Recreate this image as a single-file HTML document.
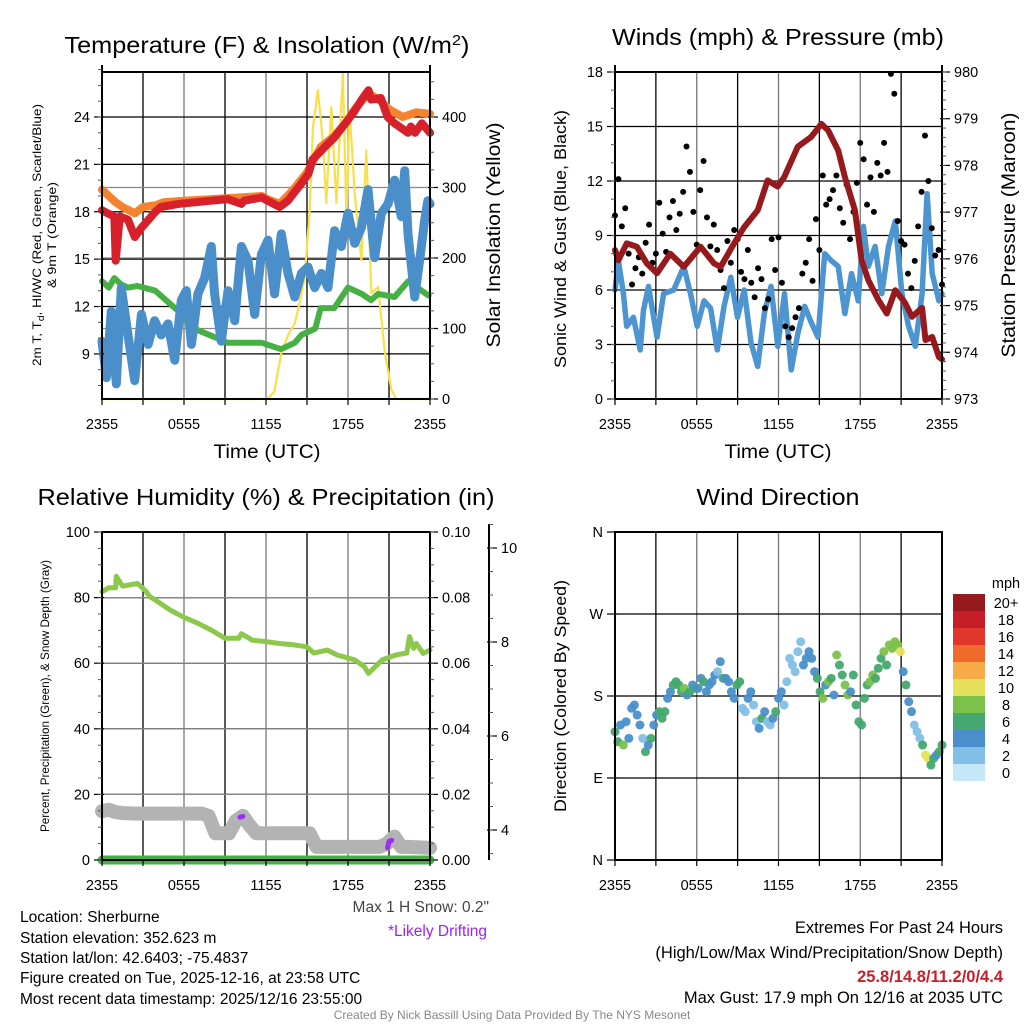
<!DOCTYPE html>
<html><head><meta charset="utf-8"><style>
html,body{margin:0;padding:0;background:#fff;}
svg{display:block;font-family:"Liberation Sans",sans-serif;}
</style></head><body>
<svg id="fig" width="1024" height="1024" viewBox="0 0 1024 1024" xmlns="http://www.w3.org/2000/svg">
<rect width="1024" height="1024" fill="#fff"/>
<g id="grids"></g>
<g id="series"></g>
<g id="axes"></g>
<g font-size="23" fill="#000">
<text x="267" y="53" text-anchor="middle" textLength="405" lengthAdjust="spacingAndGlyphs">Temperature (F) &amp; Insolation (W/m<tspan dy="-8" font-size="15">2</tspan><tspan dy="8">)</tspan></text>
<text x="778" y="45" text-anchor="middle" textLength="332" lengthAdjust="spacingAndGlyphs">Winds (mph) &amp; Pressure (mb)</text>
<text x="266" y="505" text-anchor="middle" textLength="457" lengthAdjust="spacingAndGlyphs">Relative Humidity (%) &amp; Precipitation (in)</text>
<text x="778" y="505" text-anchor="middle" textLength="163" lengthAdjust="spacingAndGlyphs">Wind Direction</text>
</g>
<g font-size="19">
<text x="267" y="458" text-anchor="middle" textLength="107" lengthAdjust="spacingAndGlyphs">Time (UTC)</text>
<text x="778" y="458" text-anchor="middle" textLength="107" lengthAdjust="spacingAndGlyphs">Time (UTC)</text>
<text transform="translate(500,235) rotate(-90)" text-anchor="middle" font-size="19" textLength="225" lengthAdjust="spacingAndGlyphs">Solar Insolation (Yellow)</text>
<text transform="translate(566,239) rotate(-90)" text-anchor="middle" font-size="17" textLength="258" lengthAdjust="spacingAndGlyphs">Sonic Wind &amp; Gust (Blue, Black)</text>
<text transform="translate(1015,235) rotate(-90)" text-anchor="middle" font-size="19" textLength="245" lengthAdjust="spacingAndGlyphs">Station Pressure (Maroon)</text>
<text transform="translate(566,696) rotate(-90)" text-anchor="middle" font-size="17" textLength="232" lengthAdjust="spacingAndGlyphs">Direction (Colored By Speed)</text>
</g>
<g font-size="12">
<text transform="translate(41,235) rotate(-90)" text-anchor="middle" textLength="262" lengthAdjust="spacingAndGlyphs">2m T, T<tspan dy="3" font-size="9">d</tspan><tspan dy="-3">, HI/WC (Red, Green, Scarlet/Blue)</tspan></text>
<text transform="translate(56,235) rotate(-90)" text-anchor="middle" textLength="106" lengthAdjust="spacingAndGlyphs">&amp; 9m T (Orange)</text>
<text transform="translate(49,696) rotate(-90)" text-anchor="middle" textLength="272" lengthAdjust="spacingAndGlyphs">Percent, Precipitation (Green), &amp; Snow Depth (Gray)</text>
</g>
<g font-size="15.5" fill="#000">
<text x="20" y="922">Location: Sherburne</text>
<text x="20" y="943">Station elevation: 352.623 m</text>
<text x="20" y="963">Station lat/lon: 42.6403; -75.4837</text>
<text x="20" y="983">Figure created on Tue, 2025-12-16, at 23:58 UTC</text>
<text x="20" y="1004">Most recent data timestamp: 2025/12/16 23:55:00</text>
<text x="489" y="912" text-anchor="end" fill="#444">Max 1 H Snow: 0.2"</text>
<text x="487" y="936" text-anchor="end" fill="#a020f0">*Likely Drifting</text>
</g>
<g font-size="16.5" fill="#000" text-anchor="end">
<text x="1003" y="933">Extremes For Past 24 Hours</text>
<text x="1003" y="958">(High/Low/Max Wind/Precipitation/Snow Depth)</text>
<text x="1003" y="982" fill="#c8202a" font-weight="bold">25.8/14.8/11.2/0/4.4</text>
<text x="1003" y="1003">Max Gust: 17.9 mph On 12/16 at 2035 UTC</text>
</g>
<text x="512" y="1019" text-anchor="middle" font-size="12" fill="#888">Created By Nick Bassill Using Data Provided By The NYS Mesonet</text>
<g id="cbar"></g>
</svg>
<script>
// ---------- data ----------
const timeTickLabels = ["2355","0555","1155","1755","2355"];
const tempTicks = [9,12,15,18,21,24];
const solarTicks = [0,100,200,300,400];
const windTicks = [0,3,6,9,12,15,18];
const pressTicks = [973,974,975,976,977,978,979,980];
const rhTicks = [0,20,40,60,80,100];
const precipTicks = [0,0.02,0.04,0.06,0.08,0.10];
const precipTickLabels = ["0.00","0.02","0.04","0.06","0.08","0.10"];
const snowTicks = [4,6,8,10];
const dirTicks = [0,90,180,270,360];
const dirTickLabels = ["N","E","S","W","N"];
const speedBinLabels = ["0","2","4","6","8","10","12","14","16","18","20+"];

const redT = [0,0.4,0.9,1.0,1.3,1.9,2.4,2.9,3.4,3.9,4.3,5.6,6.8,8.0,9.2,10.2,10.4,11.7,12.1,13.0,13.6,14.6,15.1,15.4,16.3,17.0,17.8,18.5,19.0,19.5,19.7,20.4,20.9,21.4,22.4,22.6,22.9,23.4,24];
const redV = [18.1,17.9,17.7,14.9,17.7,17.5,16.4,17.0,17.5,18.0,18.3,18.5,18.6,18.7,18.8,18.5,18.7,18.9,18.7,18.3,18.7,19.8,20.4,21.3,22.1,22.7,23.6,24.4,25.1,25.7,25.1,25.2,24.0,23.6,23.0,23.4,23.0,23.6,23.0];
const orangeT = [0,0.5,1.0,1.5,2.4,3.0,3.9,4.5,6,8,10,11.7,12.1,13,14,15,16,17,18,18.5,19.5,20.4,21,22,23,24];
const orangeV = [19.4,19.0,18.6,18.3,17.9,18.3,18.4,18.6,18.7,18.8,18.9,19.0,18.8,18.5,19.4,20.5,22.1,22.8,23.8,24.5,25.5,25.0,24.5,24.0,24.3,24.2];
const greenT = [0,0.5,0.9,1.4,1.9,2.6,3.9,5.6,7.0,8.7,9.2,11.7,13.1,14.1,14.6,15.6,16.0,17.0,18.0,19.0,19.7,20.2,21.4,22.4,23.9];
const greenV = [13.6,13.2,13.8,13.4,13.2,13.3,13.0,11.7,10.5,9.9,9.7,9.7,9.3,9.7,10.2,10.6,11.9,11.9,13.2,12.8,12.4,12.8,12.6,13.6,12.7];
const blueT = [0,0.32,0.68,1.05,1.41,1.9,2.39,2.88,3.37,3.85,4.34,4.83,5.32,5.8,6.17,6.54,7.02,7.51,8.0,8.24,8.73,9.22,9.71,10.2,10.68,11.17,11.66,12.15,12.63,13.12,13.61,14.1,14.59,15.07,15.56,16.05,16.54,17.02,17.51,18.0,18.49,18.98,19.46,19.95,20.44,20.93,21.41,21.9,22.15,22.39,22.88,23.24,23.61,23.85,24];
const blueV = [9.8,7.5,11.7,7.1,13.2,10.2,7.3,11.5,9.6,11.1,10.2,10.9,8.6,12.4,13.0,9.6,12.8,13.8,15.8,12.8,9.8,13.0,11.1,15.8,14.9,11.5,15.3,16.2,12.8,16.6,14.1,12.6,14.1,14.5,13.2,14.1,13.2,16.8,15.8,17.9,16.0,17.0,19.4,15.1,17.9,18.5,20.0,17.7,20.6,16.6,12.6,14.9,17.5,18.7,18.5];
const solarT = [0,12.1,12.6,13.12,13.6,14.1,14.5,14.83,15.2,15.44,15.8,16.17,16.41,16.78,17.15,17.63,17.88,18.12,18.49,18.98,19.34,19.71,20.2,20.68,21.17,21.54,24];
const solarV = [0,0,10,65,90,107,140,173,268,386,438,363,278,414,278,462,258,410,292,197,353,150,159,69,13,0,0];

const pressT = [0,0.25,0.86,1.6,2.34,3.08,4.06,5.05,6.28,7.27,7.76,8.74,9.48,10.47,11.2,11.94,12.42,13.42,14.4,15.15,15.64,16.38,16.87,17.61,18.1,18.6,19.33,19.95,20.57,21.3,21.8,22.54,22.79,23.28,23.77,24];
const pressV = [976.19,975.97,976.33,976.26,975.9,975.69,976.11,975.83,976.26,975.9,975.83,976.33,976.68,977.04,977.68,977.55,977.75,978.4,978.61,978.89,978.75,978.32,977.75,977.04,975.97,975.54,975.12,974.83,975.33,975.05,974.76,974.95,974.26,974.33,973.9,973.85];
const windT = [0,0.25,0.62,0.86,1.35,1.85,2.09,2.46,3.08,3.57,4.31,5.05,5.54,6.03,6.53,7.02,7.51,8.0,8.5,8.99,9.48,9.98,10.47,10.96,11.45,11.95,12.44,12.93,13.42,13.92,14.41,14.9,15.39,15.89,16.38,16.87,17.36,17.86,18.23,18.6,19.09,19.58,20.07,20.57,21.06,21.55,22.04,22.54,22.91,23.28,23.77,24];
const windV = [6.0,7.6,5.8,4.0,4.5,2.7,4.9,6.2,3.4,5.8,6.0,7.3,5.8,4.0,5.4,5.0,2.7,5.1,6.7,4.5,6.0,3.1,1.8,4.7,6.2,2.9,5.8,1.6,3.6,5.1,4.2,3.4,8.0,7.6,7.3,4.7,6.9,5.4,9.5,7.3,8.4,5.8,8.4,9.8,5.8,4.0,2.9,5.8,11.3,6.9,5.4,5.8];
const gustV = [10.1,12.1,9.5,10.5,8.0,6.3,7.2,7.8,6.9,8.6,9.6,7.5,8.0,10.8,9.1,8.1,10.0,10.9,9.3,10.2,11.4,13.9,12.5,10.3,8.5,11.5,13.1,10.0,8.4,9.6,8.2,7.1,6.1,8.7,7.5,9.3,8.8,7.0,6.6,8.2,6.4,5.6,7.2,6.6,5.0,5.5,8.8,7.1,8.9,6.4,4.0,3.4,3.9,4.5,5.0,6.9,7.5,8.8,6.5,9.9,8.2,12.3,10.7,11.0,11.5,12.3,10.5,9.7,11.8,8.8,10.3,11.9,14.1,13.2,10.7,12.2,10.3,13.0,12.3,14.1,12.5,17.9,16.8,9.8,8.7,8.5,6.9,6.1,7.6,9.5,11.4,14.5,12.0,9.4,7.9,8.2,6.3];

const rhT = [0,0.5,1,1.05,1.5,2.6,3.2,3.5,4,5,6,7,8,9,10,10.2,11,12,13,14,15,15.5,16.5,17.2,18.5,19.2,19.5,20.5,21.5,22.3,22.5,22.8,23,23.5,24];
const rhV = [81.8,83,83,86.5,83.5,84.3,82,80.3,79,76.2,74,72.2,70.1,67.6,67.6,69,67,66.6,66,65.6,65,63.1,64,62.5,61,58.9,56.9,61,62.5,63.1,68.1,64.5,66,63,64];
const precipT = [0,24];
const precipV = [0,0];
const snowT = [0,0.5,1.0,1.5,2.5,7.3,7.8,8.3,9.3,9.8,10.3,10.8,11.3,15.2,15.7,20.3,20.8,21.4,21.9,22.4,24];
const snowV = [4.40,4.43,4.38,4.36,4.35,4.35,4.30,3.93,3.93,4.20,4.30,4.10,3.93,3.93,3.64,3.64,3.70,3.86,3.64,3.64,3.62];
const drift1T = [10.1,10.3];
const drift1V = [4.27,4.29];
const drift2T = [20.9,21.0,21.2];
const drift2V = [3.62,3.76,3.78];

const dirV = [140.8,129.9,148.2,126.2,151.8,133.5,166.5,170.1,159.1,148.2,133.5,118.9,126.2,133.5,148.2,159.1,162.8,155.5,162.8,177.4,184.7,192.1,195.7,192.1,184.7,188.4,181.1,184.7,192.1,188.4,188.4,199.4,195.7,184.7,192.1,195.7,203.0,206.7,217.7,199.4,199.4,195.7,184.7,177.4,192.1,195.7,166.5,162.8,177.4,184.7,170.1,151.8,144.5,155.5,162.8,151.8,148.2,155.5,162.8,177.4,184.7,170.1,195.7,221.3,214.0,206.7,228.7,239.6,214.0,221.3,228.7,221.3,206.7,199.4,184.7,177.4,192.1,195.7,199.4,181.1,225.0,214.0,203.0,192.1,181.1,184.7,203.0,170.1,151.8,148.2,177.4,192.1,195.7,203.0,199.4,210.4,221.3,228.7,214.0,236.0,232.3,239.6,236.0,228.7,206.7,192.1,173.8,162.8,148.2,140.8,133.5,126.2,115.2,111.6,104.2,111.6,115.2,118.9,126.2];
const speedV = [6,7,4,8,5,4,4,4,5,4,3,6,4,7,5,4,7,6,7,4,5,6,6,7,6,8,5,6,4,6,4,5,6,4,5,4,4,3,4,6,4,5,4,4,7,6,3,2,4,4,2,2,5,6,4,3,2,4,6,4,4,2,3,2,2,3,2,2,4,4,4,4,4,6,6,8,4,8,6,4,8,6,6,8,8,5,6,6,7,7,6,6,8,8,6,7,6,9,6,8,9,9,8,10,4,6,4,4,2,2,3,7,10,10,6,6,4,6,7];
const speedColors = ["#c6e7f7","#82bfe6","#4a8fcb","#45a86e","#7cc14b","#e5e15b","#f6aa48","#f06a2b","#e1362c","#c41e26","#961a1d"];

// ---------- helpers ----------
const NS = "http://www.w3.org/2000/svg";
const G = document.getElementById("grids"), S = document.getElementById("series"), A = document.getElementById("axes");
function mk(parent, tag, attrs){const e=document.createElementNS(NS,tag);for(const k in attrs)e.setAttribute(k,attrs[k]);parent.appendChild(e);return e;}
function lin(d0,d1,r0,r1){return v=>r0+(v-d0)/(d1-d0)*(r1-r0);}
const P1={x0:102,x1:430,y0:72,y1:399}, P2={x0:615,x1:942,y0:72,y1:399}, P3={x0:102,x1:430,y0:532,y1:860}, P4={x0:615,x1:942,y0:532,y1:860};
const tx1=lin(0,24,P1.x0,P1.x1), tx2=lin(0,24,P2.x0,P2.x1);
const yTemp=lin(24,9,117,353.9), ySolar=lin(0,400,399,117);
const yWind=lin(0,18,399,72), yPress=lin(973,980,399,72);
const yRh=lin(0,100,860,532), yPrec=lin(0,0.1,860,532), ySnow=lin(4,10,830,548);
const yDir=lin(0,360,860,532);

function polyline(T,V,fx,fy,color,w,name,opacity){
  const pts=T.map((t,i)=>fx(t).toFixed(1)+","+fy(V[i]).toFixed(1)).join(" ");
  const e=mk(S,"polyline",{points:pts,fill:"none",stroke:color,"stroke-width":w,"stroke-linejoin":"round","stroke-linecap":"round","stroke-opacity":opacity||1});
  
  
  return e;
}
function txt(parent,x,y,s,anchor,size,name){
  const e=mk(parent,"text",{x:x,y:y,"text-anchor":anchor,"font-size":size||14.5,fill:"#000"});
  e.textContent=s;
  
  
  return e;
}
function vgrid(P){
  for(let i=0;i<=8;i++){
    const x=P.x0+i*(P.x1-P.x0)/8;
    const e=mk(G,"line",{x1:x,y1:P.y0,x2:x,y2:P.y1,stroke:i%2?"#000":"#777","stroke-width":1.3});
    
    
    const t=mk(A,"line",{x1:x,y1:P.y1,x2:x,y2:P.y1+6,stroke:"#000","stroke-width":1.2});
    
    
  }
  timeTickLabels.forEach((s,i)=>{txt(A,P.x0+i*(P.x1-P.x0)/4,P.y1+30,s,"middle",14.5,"x-tick-label");});
}
function hgrid(P,ticks,fy,color){
  ticks.forEach(v=>{const y=fy(v);
    const e=mk(G,"line",{x1:P.x0,y1:y,x2:P.x1,y2:y,stroke:color,"stroke-width":1.3});
    
    
  });
}
function yaxis(x,ticks,labels,fy,side,minorStep,minMax,name){
  const ax=mk(A,"line",{x1:x,y1:minMax[0],x2:x,y2:minMax[1],stroke:"#000","stroke-width":2});
  
  
  const dir=side==="left"?-1:1;
  ticks.forEach((v,i)=>{const y=fy(v);
    const t=mk(A,"line",{x1:x-dir*2,y1:y,x2:x+dir*8,y2:y,stroke:"#000","stroke-width":1.2});
    
    
    txt(A,x+dir*12,y+5,labels?labels[i]:String(v),side==="left"?"end":"start",14.5,"y-tick-label");
  });
  if(minorStep){
    const lo=Math.min(...ticks),hi=Math.max(...ticks);
    for(let v=lo-minorStep*6;v<=hi+minorStep*6+1e-9;v+=minorStep){
      const y=fy(v); if(y<minMax[0]-0.5||y>minMax[1]+0.5)continue;
      const t=mk(A,"line",{x1:x,y1:y,x2:x+dir*4,y2:y,stroke:"#555","stroke-width":1});
      
      
    }
  }
}
function frame(P,name){
  const r=mk(A,"rect",{x:P.x0,y:P.y0,width:P.x1-P.x0,height:P.y1-P.y0,fill:"none",stroke:"#000","stroke-width":2});
  
  
}

// ---------- panel 1 ----------
vgrid(P1); hgrid(P1,tempTicks,yTemp,"#000"); hgrid(P1,solarTicks.slice(1,4),ySolar,"#888");
polyline(solarT,solarV,tx1,ySolar,"#f9e04b",2.2,"solar-insolation-line");
polyline(orangeT,orangeV,tx1,yTemp,"#f5822e",8,"9m-temperature-line");
polyline(redT,redV,tx1,yTemp,"#d7202a",8,"2m-temperature-line");
polyline(greenT,greenV,tx1,yTemp,"#47b045",6,"heat-index-windchill-line");
polyline(blueT,blueV,tx1,yTemp,"#4a8fc9",9,"dewpoint-line");
frame(P1,"temperature-plot-frame");
yaxis(P1.x0,tempTicks,null,yTemp,"left",1,[65,P1.y1],"temperature-y-axis");
yaxis(P1.x1,solarTicks,null,ySolar,"right",25,[65,P1.y1],"solar-y-axis");

// ---------- panel 2 ----------
vgrid(P2); hgrid(P2,windTicks,yWind,"#000");
polyline(windT,windV,tx2,yWind,"#4d95d0",5.5,"sonic-wind-line");
gustV.forEach((v,i)=>{const t=i*24/(gustV.length-1);
  const c=mk(S,"circle",{cx:tx2(t),cy:yWind(v),r:3,fill:"#000"});
  
  
});
polyline(pressT,pressV,tx2,yPress,"#961a1d",6,"station-pressure-line");
frame(P2,"winds-plot-frame");
yaxis(P2.x0,windTicks,null,yWind,"left",1,[65,P2.y1],"wind-y-axis");
yaxis(P2.x1,pressTicks,null,yPress,"right",0.2,[65,P2.y1],"pressure-y-axis");

// ---------- panel 3 ----------
vgrid(P3); hgrid(P3,rhTicks.slice(1,5),yRh,"#000"); hgrid(P3,precipTicks.slice(1,5),yPrec,"#888");
polyline(rhT,rhV,tx1,yRh,"#8cc84b",5,"relative-humidity-line");
polyline(snowT,snowV,tx1,ySnow,"#b3b3b3",14,"snow-depth-line");
polyline(drift1T,drift1V,tx1,ySnow,"#9b30f0",5,"drifting-snow-mark");
polyline(drift2T,drift2V,tx1,ySnow,"#9b30f0",5,"drifting-snow-mark");
polyline(precipT,precipV,tx1,yPrec,"#47b045",9,"precipitation-line");
frame(P3,"humidity-plot-frame");
yaxis(P3.x0,rhTicks,null,yRh,"left",5,[P3.y0,P3.y1],"humidity-y-axis");
yaxis(P3.x1,precipTicks,precipTickLabels,yPrec,"right",0.005,[P3.y0,P3.y1],"precipitation-y-axis");
yaxis(489,snowTicks,null,ySnow,"right",0.5,[P3.y0-8,P3.y1],"snow-depth-y-axis");

// ---------- panel 4 ----------
vgrid(P4); hgrid(P4,dirTicks.slice(1,4),yDir,"#000");
const tx4=lin(0,24,P4.x0,P4.x1);
dirV.forEach((d,i)=>{const t=i*24/(dirV.length-1);
  const bin=Math.max(0,Math.min(10,Math.floor(speedV[i]/2)));
  const c=mk(S,"circle",{cx:tx4(t),cy:yDir(d),r:4.5,fill:speedColors[bin],"fill-opacity":0.95});
  
  
});
frame(P4,"direction-plot-frame");
yaxis(P4.x0,dirTicks,dirTickLabels,yDir,"left",0,[P4.y0,P4.y1],"direction-y-axis");

// ---------- colorbar ----------
const CB=document.getElementById("cbar");
txt(CB,1006,588,"mph","middle",14.5,"colorbar-title");
speedColors.forEach((c,i)=>{const y=594+(10-i)*17;
  const r=mk(CB,"rect",{x:953,y:y,width:32,height:17,fill:c});
  
  
  txt(CB,1006,y+14,speedBinLabels[i],"middle",14.5,"colorbar-label");
});
</script>
</body></html>
